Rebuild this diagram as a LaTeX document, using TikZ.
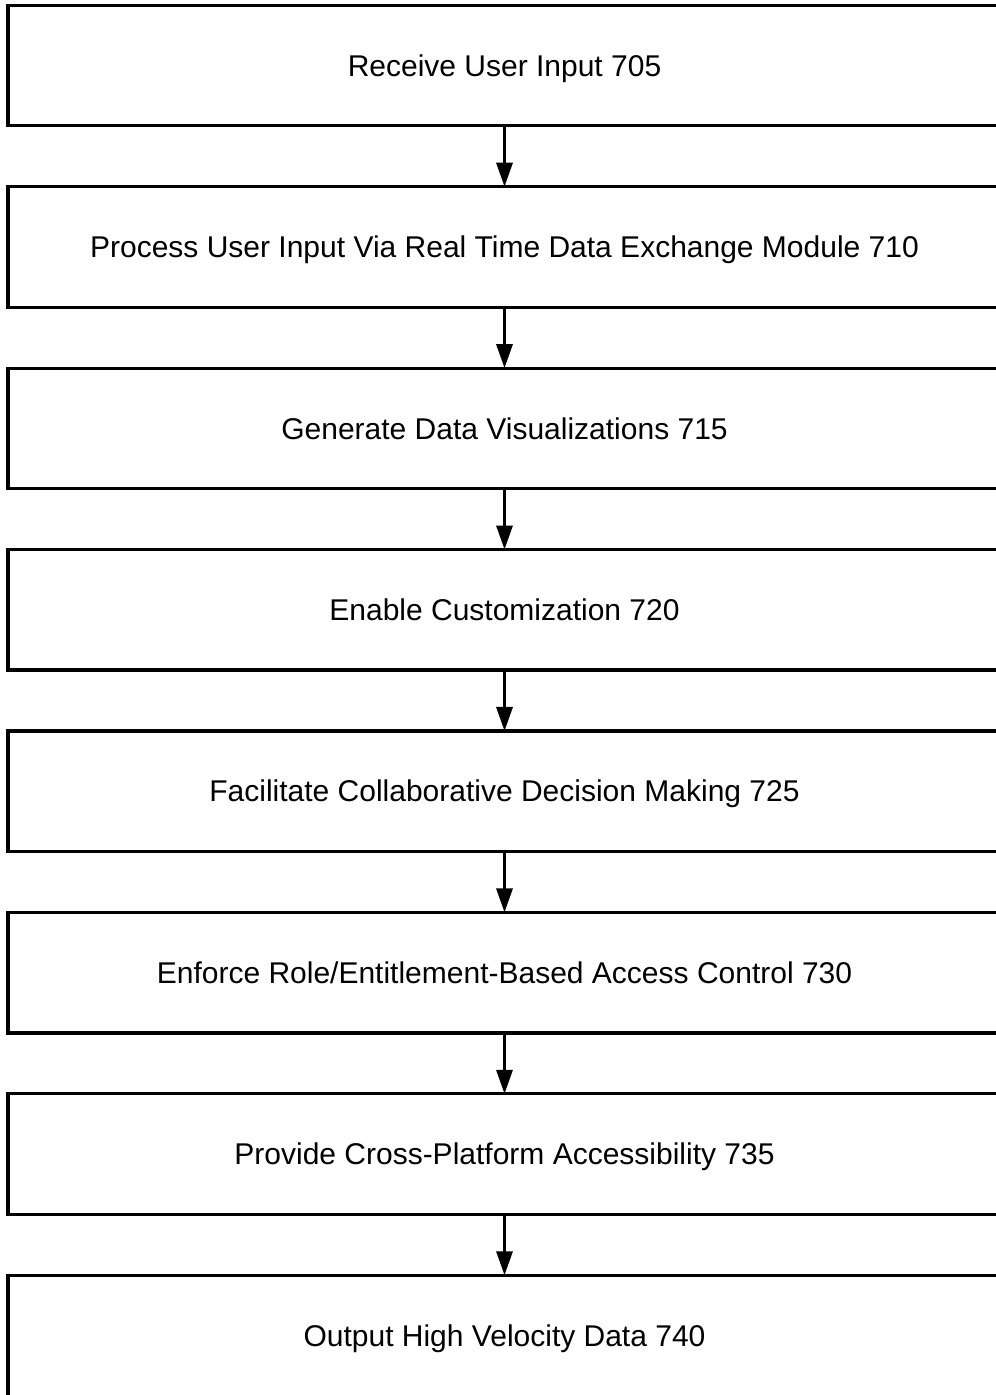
\documentclass[tikz,border=0pt]{standalone}
\usepackage{fontspec}
\setmainfont{Liberation Sans}
\usetikzlibrary{arrows.meta}
\begin{document}
\begin{tikzpicture}[x=1pt,y=-1pt,
  stepbox/.style={draw, line width=3.2pt, rectangle, outer sep=0pt, inner sep=0pt,
    minimum width=993pt, minimum height=120.5pt,
    text height=21.5pt, text depth=0pt,
    font=\fontsize{30}{36}\selectfont},
  flow/.style={line width=3.2pt, -{Triangle[length=24pt,width=16pt]}}]
\useasboundingbox (0,0) rectangle (996,1395);
\clip (0,0) rectangle (996,1395);
% process steps, one row every 181.43pt
\node[stepbox] (s1) at (504.5,65.5) {Receive User Input 705};
\node[stepbox] (s2) at (504.5,246.93) {Process User Input Via Real Time Data Exchange Module 710};
\node[stepbox] (s3) at (504.5,428.36) {Generate Data Visualizations 715};
\node[stepbox] (s4) at (504.5,609.79) {Enable Customization 720};
\node[stepbox] (s5) at (504.5,791.22) {Facilitate Collaborative Decision Making 725};
\node[stepbox] (s6) at (504.5,972.65) {Enforce Role/Entitlement-Based Access Control 730};
\node[stepbox] (s7) at (504.5,1154.08) {Provide Cross-Platform Accessibility 735};
% last step runs past the lower edge of the page
\node[stepbox, minimum height=140pt, text depth=19.5pt] (s8) at (504.5,1345.26) {Output High Velocity Data 740};
% connectors between consecutive steps
\foreach \a/\b in {s1/s2,s2/s3,s3/s4,s4/s5,s5/s6,s6/s7,s7/s8}
  \draw[flow] (\a.south) -- (\b.north);
\end{tikzpicture}
\end{document}
